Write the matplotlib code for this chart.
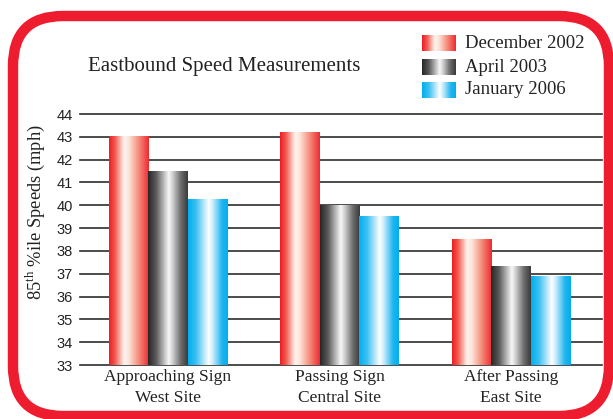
import numpy as np
import matplotlib
matplotlib.use("Agg")
import matplotlib.pyplot as plt
from matplotlib.colors import LinearSegmentedColormap
from matplotlib.patches import FancyBboxPatch
from matplotlib.transforms import IdentityTransform

plt.rcParams['mathtext.fontset'] = 'custom'
plt.rcParams['mathtext.rm'] = 'Liberation Serif'

# ---- data ----
categories = ["Approaching Sign\nWest Site", "Passing Sign\nCentral Site", "After Passing\nEast Site"]
series_names = ["December 2002", "April 2003", "January 2006"]
dec_2002 = [43.0, 43.2, 38.5]
apr_2003 = [41.5, 40.0, 37.3]
jan_2006 = [40.25, 39.5, 36.9]
yticks = list(range(33, 45))

title = "Eastbound Speed Measurements"
ylabel = "85$^{\\mathrm{th}}$ %ile Speeds (mph)"

# ---- styles ----
cmaps = [
    LinearSegmentedColormap.from_list("r", [(0, "#ed1c24"), (0.15, "#f25a50"), (0.38, "#fff6ef"),
                                           (0.5, "#fde3d8"), (0.75, "#f58a78"), (1, "#ed2a32")]),
    LinearSegmentedColormap.from_list("k", [(0, "#262626"), (0.2, "#5a5a5a"), (0.52, "#f7f7f7"),
                                           (0.6, "#d8d8d8"), (0.82, "#6e6e6e"), (1, "#3a3a3a")]),
    LinearSegmentedColormap.from_list("b", [(0, "#00aeef"), (0.2, "#3cc0f2"), (0.52, "#ffffff"),
                                           (0.62, "#c8ecfb"), (0.85, "#20b6ef"), (1, "#00aeef")]),
]
grad = np.linspace(0, 1, 256).reshape(1, -1)

W, H = 613, 419
fig = plt.figure(figsize=(W / 100, H / 100), dpi=100)
fig.patch.set_facecolor("white")

ax = fig.add_axes([80 / W, 1 - 365 / H, (602 - 80) / W, (365 - 114) / H])
ax.set_xlim(-0.512, 2.53)
ax.set_ylim(33, 44)

x = np.arange(len(categories))
bw = 0.23
all_series = [dec_2002, apr_2003, jan_2006]
for i, vals in enumerate(all_series):
    bars = ax.bar(x + (i - 1) * bw, vals, width=bw, color="none", edgecolor="none", zorder=3)
    for b in bars:
        x0 = b.get_x()
        ax.imshow(grad, cmap=cmaps[i], aspect="auto", zorder=3,
                  extent=(x0, x0 + b.get_width(), 33, b.get_height()))
ax.set_xlim(-0.512, 2.53)
ax.set_ylim(33, 44)

for yv in yticks:
    ax.axhline(yv, color="#2e2e2e", lw=1.2, zorder=1, clip_on=False)

for s in ax.spines.values():
    s.set_visible(False)
ax.set_yticks(yticks)
ax.set_yticklabels([str(v) for v in yticks], fontsize=10.5, family="Liberation Sans", color="#222222")
ax.set_xticks(x)
ax.set_xticklabels(categories, fontsize=12.5, family="Liberation Serif", color="#222222", linespacing=1.4)
ax.tick_params(length=0, axis="y", pad=5)
ax.tick_params(length=0, axis="x", pad=3)
ax.set_ylabel(ylabel, fontsize=13.3, family="Liberation Serif", color="#222222")
ax.yaxis.set_label_coords(-0.064, 0.61)

fig.text(88 / W, 1 - 67 / H, title, fontsize=15, family="Liberation Serif", color="#222222",
         va="center", ha="left")

# legend
row_y = [43, 67, 90]
for i, name in enumerate(series_names):
    lax = fig.add_axes([422 / W, 1 - (row_y[i] + 8) / H, 33 / W, 16 / H])
    lax.imshow(grad, cmap=cmaps[i], aspect="auto")
    lax.axis("off")
    fig.text(465 / W, 1 - row_y[i] / H, name, fontsize=13.5, family="Liberation Serif",
             color="#222222", va="center", ha="left")

# red rounded border
border = FancyBboxPatch((13, H - 416), 596, 400, boxstyle="round,pad=0,rounding_size=50",
                        transform=IdentityTransform(), facecolor="none", edgecolor="#ed1c2e",
                        linewidth=7.5, zorder=10)
fig.patches.append(border)

fig.savefig("out.png", dpi=100)
